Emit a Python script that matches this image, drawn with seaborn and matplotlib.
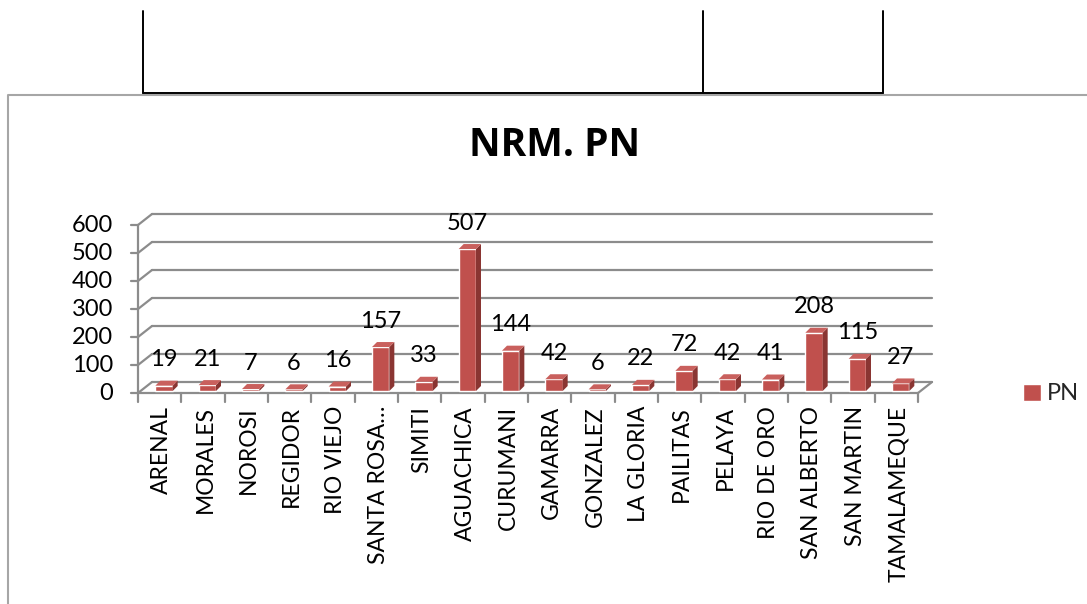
import matplotlib
matplotlib.use("Agg")
import matplotlib.pyplot as plt
from matplotlib.lines import Line2D
from matplotlib.patches import Polygon, Patch
import seaborn as sns
import pandas as pd

# ---- data ----
categories = ["ARENAL", "MORALES", "NOROSI", "REGIDOR", "RIO VIEJO", "SANTA ROSA…",
              "SIMITI", "AGUACHICA", "CURUMANI", "GAMARRA", "GONZALEZ", "LA GLORIA",
              "PAILITAS", "PELAYA", "RIO DE ORO", "SAN ALBERTO", "SAN MARTIN", "TAMALAMEQUE"]
values = [19, 21, 7, 6, 16, 157, 33, 507, 144, 42, 6, 22, 72, 42, 41, 208, 115, 27]
y_ticks = [0, 100, 200, 300, 400, 500, 600]
series_name = "PN"
title = "NRM. PN"

df = pd.DataFrame({"cat": categories, "val": values})

sns.set_theme(style="white")
plt.rcParams["font.family"] = ["Lato", "DejaVu Sans"]

W, H = 1087, 604
fig = plt.figure(figsize=(W / 100, H / 100), dpi=100)

# pixel geometry of the pseudo-3D plot
front_left, front_right = 138, 918
front_bottom, front_top = 393, 225  # y px for 0 and 600
depth_x, depth_y = 14, 11
n = len(categories)
ymax = y_ticks[-1]

ax_left, ax_right = front_left, front_right + depth_x
ax_bottom, ax_top = front_bottom, front_top - depth_y
ax = fig.add_axes([ax_left / W, 1 - ax_bottom / H, (ax_right - ax_left) / W, (ax_bottom - ax_top) / H])

px_per_x = (front_right - front_left) / n
px_per_y = (front_bottom - front_top) / ymax
x0 = -0.5
x1 = n - 0.5
ddx = depth_x / px_per_x
ddy = depth_y / px_per_y

grid_c = "#8c8c8c"
lw = 1.6
tick_fs = 16.5
num_fs = 17

# bars (front faces) through seaborn
front_c, side_c, top_c = "#C0504D", "#8A3532", "#C9605D"
sns.barplot(data=df, x="cat", y="val", color=front_c, width=0.40, ax=ax,
            saturation=1, zorder=3, legend=False)
ax.axis("off")
ax.set_xlim(x0, x1 + ddx)
ax.set_ylim(0, ymax + ddy)

# back wall gridlines + left wall diagonals + ticks
for v in y_ticks:
    ax.plot([x0 + ddx, x1 + ddx], [v + ddy, v + ddy], color=grid_c, lw=lw, clip_on=False, zorder=1)
    ax.plot([x0, x0 + ddx], [v, v + ddy], color=grid_c, lw=lw, clip_on=False, zorder=1)
    ax.plot([x0 - 7 / px_per_x, x0], [v, v], color=grid_c, lw=lw, clip_on=False, zorder=1)
    ax.text(x0 - 25 / px_per_x, v, str(v), ha="right", va="center", fontsize=num_fs, color="black")
# front axis
ax.plot([x0, x0], [0, ymax], color=grid_c, lw=lw, clip_on=False, zorder=1)
# floor front edge and right diagonal
ax.plot([x0, x1], [0, 0], color=grid_c, lw=lw, clip_on=False, zorder=1)
ax.plot([x1, x1 + ddx], [0, ddy], color=grid_c, lw=lw, clip_on=False, zorder=1)
# category ticks
for i in range(n + 1):
    ax.plot([x0 + i, x0 + i], [0, -9 / px_per_y], color=grid_c, lw=lw, clip_on=False, zorder=1)
for i, c in enumerate(categories):
    ax.text(i + 0.05, -13 / px_per_y, c, rotation=90, ha="center", va="top", fontsize=tick_fs, color="black")

bx = 0.1
bdx = 5 / px_per_x
bdy = 5 / px_per_y
lift = 2 / px_per_y
for p, v in zip(list(ax.patches), values):
    p.set_x(p.get_x() + bx)
    p.set_y(lift)
    xl = p.get_x()
    xr = xl + p.get_width()
    yt = lift + p.get_height()
    side = Polygon([(xr, lift), (xr + bdx, lift + bdy), (xr + bdx, yt + bdy), (xr, yt)],
                   closed=True, facecolor=side_c, edgecolor="none", zorder=3)
    top = Polygon([(xl, yt), (xl + bdx, yt + bdy), (xr + bdx, yt + bdy), (xr, yt)],
                  closed=True, facecolor=top_c, edgecolor="none", zorder=3)
    ax.add_patch(side)
    ax.add_patch(top)
    ax.annotate(str(v), (xl + p.get_width() / 2, yt), xytext=(0, 14),
                textcoords="offset points", ha="center", va="baseline", fontsize=num_fs,
                color="black", annotation_clip=False)

# title
fig.text(555 / W, 1 - 146 / H, title, ha="center", va="center", fontsize=28,
         fontweight="bold", color="black", family=["Open Sans", "DejaVu Sans"])

# legend
fig.legend(handles=[Patch(facecolor=front_c, label=series_name)], loc="center left",
           bbox_to_anchor=(1023 / W, 1 - 394 / H), frameon=False, fontsize=num_fs,
           handlelength=0.75, handleheight=0.75, handletextpad=0.25,
           borderpad=0, borderaxespad=0)

# chart area border (grey)
border_c = "#a6a6a6"
fig.add_artist(Line2D([8 / W, 8 / W, 1.0], [0, 1 - 95 / H, 1 - 95 / H], color=border_c, lw=1.5))
# table lines above (black)
for xp in (143, 703, 883):
    fig.add_artist(Line2D([xp / W, xp / W], [1 - 11 / H, 1 - 93 / H], color="black", lw=1.4))
fig.add_artist(Line2D([143 / W, 883 / W], [1 - 93 / H, 1 - 93 / H], color="black", lw=1.4))

fig.savefig("out.png", dpi=100)
